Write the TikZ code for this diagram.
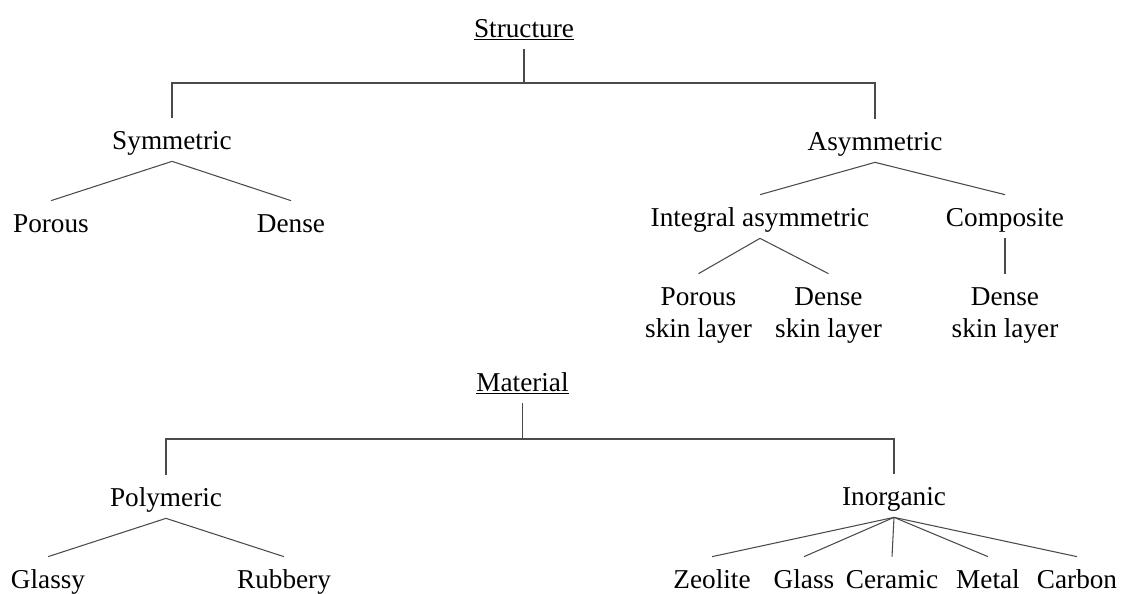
\documentclass[tikz,border=0pt]{standalone}
\usepackage{fontspec}
\setmainfont{Liberation Serif}
\usepackage{tikz}
\usetikzlibrary{positioning}
\definecolor{linegray}{HTML}{4a4a4a}
\tikzset {
  % every label of the two trees
  main/.style = {anchor=base, inner xsep=0pt, inner ysep=0.12cm,
    text height=0.5cm, text depth=0.12cm,
    font=\fontsize{15.5}{18.2}\selectfont},
  % labels set on two lines (base is the lower line)
  twoline/.style = {main, align=center, text height=1.14cm},
  % tree branches
  branch/.style = {linegray, line width=0.6pt},
}

\begin{document}
\begin{tikzpicture}
        \useasboundingbox (0,0) rectangle (22.46,-11.86);

        % structure tree
        \node[main] (st) at (10.48, -0.74) {\underline{Structure}};
        \node[main] (sym) at (3.44, -2.98) {Symmetric};
        \node[main] (asym) at (17.5, -3.0) {Asymmetric};
        \node[main] (sp) at (1.02, -4.64) {Porous};
        \node[main] (sd) at (5.82, -4.64) {Dense};
        \node[main] (ia) at (15.2, -4.52) {Integral asymmetric};
        \node[main] (co) at (20.1, -4.52) {Composite};
        \node[twoline] (iap) at (13.97, -6.74) {Porous\\skin layer};
        \node[twoline] (iad) at (16.57, -6.74) {Dense\\skin layer};
        \node[twoline] (cod) at (20.1, -6.74) {Dense\\skin layer};

        \coordinate (sbar) at (0, -1.66);

        \draw [branch] (st.south) -- (st.south |- sbar);
        \draw [branch] (sym.north) -- (sym.north |- sbar) -- (asym.north |- sbar) -- (asym.north);
        \draw [branch] (sp.north) -- (sym.south) -- (sd.north);
        \draw [branch] (ia.north) -- (asym.south) -- (co.north);
        \draw [branch] (iap.north) -- (ia.south) -- (iad.north);
        \draw [branch] (co.south) -- (cod.north);

        % material tree
        \node[main] (mt) at (10.45, -7.82) {\underline{Material}};
        \node[main] (pol) at (3.32, -10.12) {Polymeric};
        \node[main] (ino) at (17.88, -10.1) {Inorganic};
        \node[main] (gl) at (0.96, -11.76) {Glassy};
        \node[main] (ru) at (5.68, -11.76) {Rubbery};
        \node[main] (ze) at (14.24, -11.76) {Zeolite};
        \node[main] (ga) at (16.08, -11.76) {Glass};
        \node[main] (ce) at (17.84, -11.76) {Ceramic};
        \node[main] (me) at (19.76, -11.76) {Metal};
        \node[main] (ca) at (21.54, -11.76) {Carbon};

        \coordinate (mbar) at (0, -8.78);

        \draw [branch] (mt.south) -- (mt.south |- mbar);
        \draw [branch] (pol.north) -- (pol.north |- mbar) -- (ino.north |- mbar) -- (ino.north);
        \draw [branch] (gl.north) -- (pol.south) -- (ru.north);
        \draw [branch] (ino.south) -- (ze.north);
        \draw [branch] (ino.south) -- (ga.north);
        \draw [branch] (ino.south) -- (ce.north);
        \draw [branch] (ino.south) -- (me.north);
        \draw [branch] (ino.south) -- (ca.north);
      \end{tikzpicture}
\end{document}
